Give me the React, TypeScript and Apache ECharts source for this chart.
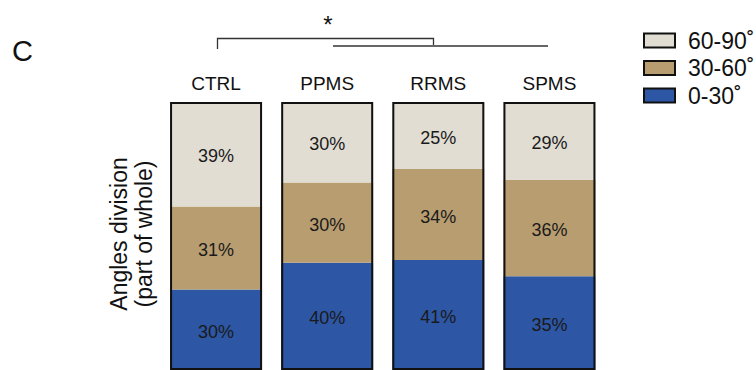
import React, { useEffect, useRef } from "react";
import * as echarts from "echarts";

const categories = ["CTRL", "PPMS", "RRMS", "SPMS"];
const seriesNames = ["0-30", "30-60", "60-90"];
const low = [30, 40, 41, 35]; // 0-30
const mid = [31, 30, 34, 36]; // 30-60
const high = [39, 30, 25, 29]; // 60-90
const totals = [100, 100, 100, 100];
const legendOrder = ["60-90", "30-60", "0-30"];

const FONT = "Liberation Sans, Arial, sans-serif";
const colors = ["#2d56a4", "#b89d70", "#e1ddd3"];

export default function App() {
  const ref = useRef<HTMLDivElement>(null);
  useEffect(() => {
    if (!ref.current) return;
    const chart = echarts.init(ref.current, null, { renderer: "svg" });
    const values = [low, mid, high];
    const stacked = values.map((vals, i) => ({
      name: seriesNames[i],
      type: "bar",
      stack: "a",
      barWidth: 92,
      barGap: "-100%",
      itemStyle: { color: colors[i], borderWidth: 0 },
      label: {
        show: true,
        position: "inside",
        offset: [0, 2],
        formatter: "{c}%",
        fontSize: 18,
        fontFamily: FONT,
        color: "#1a1a1a",
      },
      data: vals,
    }));
    const option: any = {
      animation: false,
      textStyle: { fontFamily: FONT },
      grid: { left: 160.5, right: 151, top: 102, bottom: -4 },
      xAxis: {
        type: "category",
        data: categories,
        position: "top",
        axisLine: { show: false },
        axisTick: { show: false },
        axisLabel: { fontSize: 19, color: "#111", margin: 9, fontFamily: FONT },
      },
      yAxis: { type: "value", min: 0, max: 100, show: false },
      legend: {
        data: legendOrder,
        orient: "vertical",
        left: 638,
        top: 22,
        itemWidth: 31,
        itemHeight: 14,
        itemGap: 0.5,
        icon: "rect",
        itemStyle: { borderColor: "#111", borderWidth: 2 },
        textStyle: {
          fontSize: 23,
          lineHeight: 27,
          color: "#111",
          fontFamily: FONT,
          padding: [0, 0, 0, 8],
        },
        formatter: (name: string) => `${name}˚`,
      },
      series: [
        ...stacked,
        {
          name: "outline",
          type: "bar",
          barWidth: 92,
          barGap: "-100%",
          z: 5,
          silent: true,
          itemStyle: { color: "rgba(0,0,0,0)", borderColor: "#111", borderWidth: 2 },
          data: totals,
        },
      ],
      graphic: [
        { type: "text", left: 12, top: 36, style: { text: "C", fontSize: 29, fontFamily: FONT, fill: "#111" } },
        {
          type: "text",
          x: 131,
          y: 234,
          rotation: Math.PI / 2,
          style: {
            text: "Angles division\n(part of whole)",
            fontSize: 23,
            lineHeight: 25,
            fontFamily: FONT,
            fill: "#111",
            align: "center",
            verticalAlign: "middle",
          },
        },
        {
          type: "polyline",
          shape: { points: [[217.5, 49], [217.5, 38.5], [433.5, 38.5], [433.5, 45]] },
          style: { stroke: "#333", lineWidth: 1.3, fill: null },
        },
        {
          type: "line",
          shape: { x1: 333, y1: 46, x2: 548, y2: 46 },
          style: { stroke: "#333", lineWidth: 1.3 },
        },
        {
          type: "text",
          x: 328,
          y: 24,
          style: { text: "*", fontSize: 24, fontFamily: FONT, fill: "#111", align: "center", verticalAlign: "middle" },
        },
      ],
    };
    chart.setOption(option);
    return () => chart.dispose();
  }, []);
  return <div ref={ref} style={{ position: "absolute", left: 0, top: 0, width: 756, height: 370 }} />;
}
